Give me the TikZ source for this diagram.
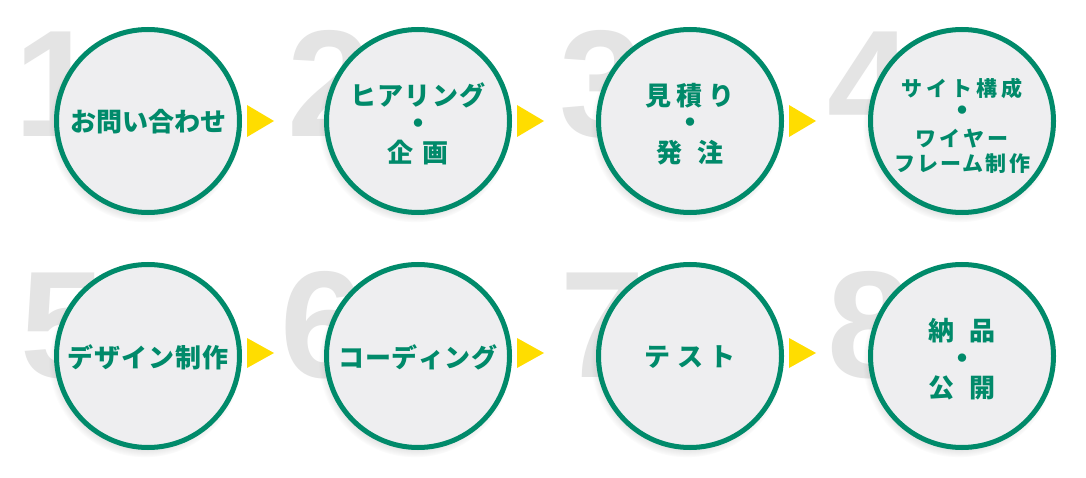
\documentclass[tikz,border=0pt]{standalone}
\usepackage{fontspec}
\setmainfont{Liberation Sans}
\newfontfamily\jp{Noto Sans CJK JP}
\newfontfamily\numfont{Liberation Sans}
\usetikzlibrary{shadows,calc}
\definecolor{grn}{RGB}{0,138,106}
\definecolor{cfill}{RGB}{238,238,240}
\definecolor{numgray}{RGB}{228,228,228}
\definecolor{ylw}{RGB}{255,221,0}
\newcommand\kn[1]{\kern#1pt\relax}
\newcommand\dt{{\fontsize{30}{30}\selectfont ・}}
\begin{document}
\begin{tikzpicture}[x=1pt,y=-1pt,
 stepcircle/.style={circle, draw=grn, line width=5pt, fill=cfill, minimum size=183pt,
   inner sep=0pt,
   circular drop shadow={shadow xshift=-3pt, shadow yshift=-5pt, opacity=0.35, shadow scale=1.05}},
 steptext/.style={inner sep=0pt, align=center, text=grn,
   font=\jp\bfseries\fontsize{26}{28.5}\selectfont},
 bignum/.style={anchor=base west, inner sep=0pt, text=numgray,
   font=\numfont\bfseries\fontsize{152}{152}\selectfont},
 tri/.style={fill=ylw}]
\useasboundingbox (0,0) rectangle (1086,478);
\fill[white] (0,0) rectangle (1086,478);
% big numbers
\node[bignum] (n1) at (14,137) {1};
\node[bignum] (n2) at (287,137) {2};
\node[bignum] (n3) at (559,137) {3};
\node[bignum] (n4) at (827,137) {4};
\node[bignum] (n5) at (20,377) {5};
\node[bignum] (n6) at (280,377) {6};
\node[bignum] (n7) at (560,377) {7};
\node[bignum] (n8) at (827,377) {8};
% circles
\node[stepcircle] (c1) at (148,121) {};
\node[stepcircle] (c2) at (418,121) {};
\node[stepcircle] (c3) at (690,121) {};
\node[stepcircle] (c4) at (962,121) {};
\node[stepcircle] (c5) at (148,356) {};
\node[stepcircle] (c6) at (418,356) {};
\node[stepcircle] (c7) at (690,356) {};
\node[stepcircle] (c8) at (962,356) {};
% texts
\node[steptext] (t1) at ($(c1.center)+(0,1)$) {お問い合わせ};
\node[steptext] (t2) at ($(c2.center)+(0,3)$) {ヒ\kn{1.5}ア\kn{1.5}リ\kn{1.5}ン\kn{1.5}グ\\\dt\\企\kn{10}画};
\node[steptext] (t3) at ($(c3.center)+(0,3)$) {見\kn{6}積\kn{6}り\\\dt\\発\kn{15}注};
\node[steptext, font=\jp\bfseries\fontsize{21}{25}\selectfont] (t4) at ($(c4.center)+(0,5)$)
  {サ\kn{4}イ\kn{4}ト\kn{4}構\kn{4}成\\\dt\\ワ\kn{3}イ\kn{3}ヤ\kn{3}ー\\フ\kn{2}レ\kn{2}ー\kn{2}ム\kn{2}制\kn{2}作};
\node[steptext] (t5) at ($(c5.center)+(0,1.5)$) {デ\kn{1}ザ\kn{1}イ\kn{1}ン\kn{1}制\kn{1}作};
\node[steptext] (t6) at ($(c6.center)+(0,1.5)$) {コ\kn{0.5}ー\kn{0.5}デ\kn{0.5}ィ\kn{0.5}ン\kn{0.5}グ};
\node[steptext] (t7) at ($(c7.center)+(0,1.5)$) {テ\kn{7}ス\kn{7}ト};
\node[steptext] (t8) at ($(c8.center)+(0,3.5)$) {納\kn{15}品\\\dt\\公\kn{15}開};
% triangles
\foreach \c in {c1,c2,c3}{
  \fill[tri] ($(\c.center)+(99,-16)$) -- ($(\c.center)+(126,0)$) -- ($(\c.center)+(99,16)$) -- cycle;
}
\foreach \c in {c5,c6,c7}{
  \fill[tri] ($(\c.center)+(99,-18)$) -- ($(\c.center)+(126,-3)$) -- ($(\c.center)+(99,12)$) -- cycle;
}
\end{tikzpicture}
\end{document}
